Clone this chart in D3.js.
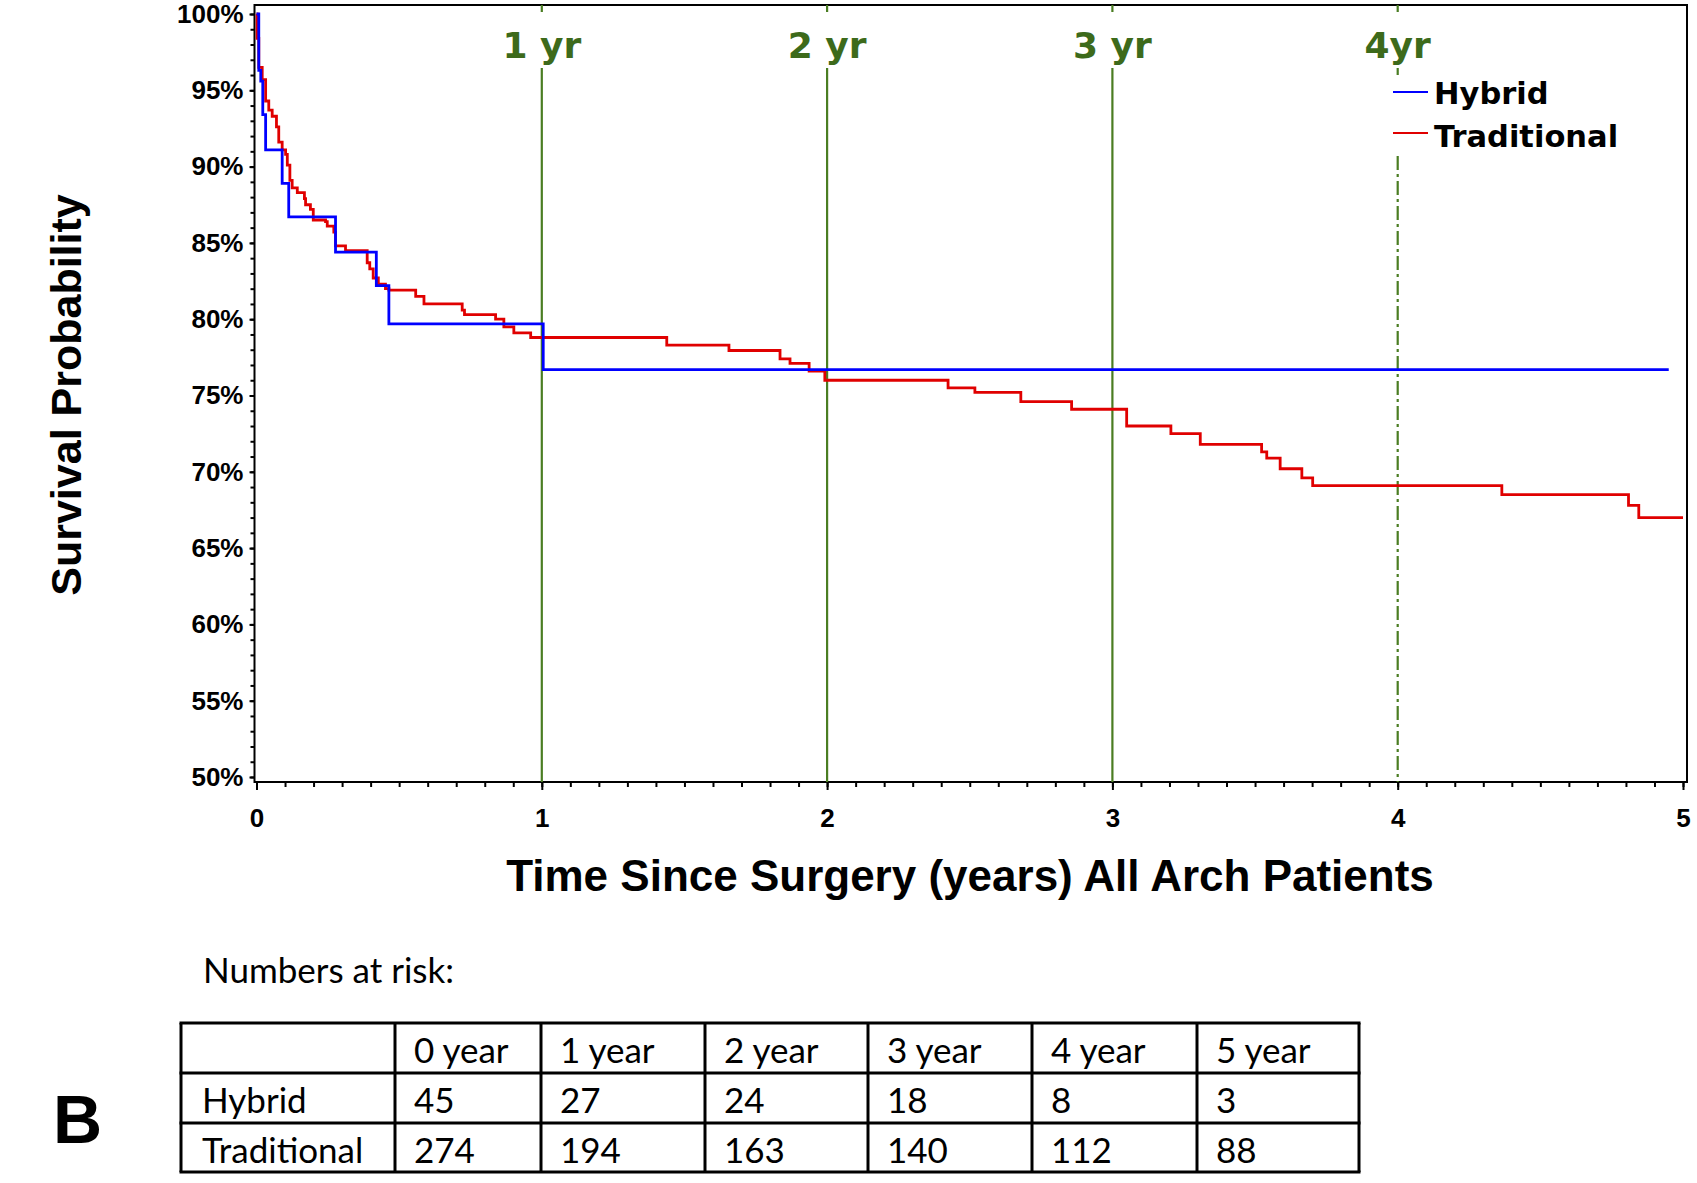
<!DOCTYPE html>
<html>
<head>
<meta charset="utf-8">
<script src="https://cdn.jsdelivr.net/npm/d3@7/dist/d3.min.js"></script>
<style>
  html, body { margin: 0; padding: 0; background: #ffffff; }
  svg { display: block; }
</style>
</head>
<body>
<svg id="chart" width="1697" height="1183"></svg>
<script>
// ---------------- data ----------------
const hybridTime = [0, 0.008, 0.015, 0.022, 0.032, 0.090, 0.113, 0.277, 0.420, 0.464, 1.005, 4.95];
const hybridSurv = [1.000, 0.963, 0.956, 0.934, 0.911, 0.889, 0.867, 0.844, 0.822, 0.797, 0.767, 0.767];

const traditionalTime = [0, 0.002, 0.008, 0.020, 0.032, 0.043, 0.055, 0.070, 0.078, 0.090, 0.102, 0.108,
  0.117, 0.125, 0.143, 0.168, 0.172, 0.189, 0.199, 0.242, 0.248, 0.271, 0.277, 0.312, 0.388, 0.397,
  0.409, 0.427, 0.452, 0.464, 0.558, 0.587, 0.721, 0.729, 0.838, 0.867, 0.902, 0.961, 1.438, 1.656,
  1.835, 1.870, 1.937, 1.992, 2.424, 2.518, 2.679, 2.857, 3.050, 3.205, 3.308, 3.523, 3.541, 3.588,
  3.664, 3.702, 4.365, 4.809, 4.845, 5.0];
const traditionalSurv = [1.000, 0.984, 0.965, 0.957, 0.943, 0.937, 0.933, 0.926, 0.916, 0.911, 0.908, 0.901,
  0.891, 0.886, 0.883, 0.879, 0.875, 0.872, 0.865, 0.864, 0.861, 0.857, 0.848, 0.845, 0.837, 0.833,
  0.827, 0.823, 0.820, 0.819, 0.815, 0.810, 0.806, 0.803, 0.800, 0.795, 0.791, 0.788, 0.783, 0.7795,
  0.774, 0.771, 0.766, 0.760, 0.755, 0.752, 0.746, 0.741, 0.730, 0.725, 0.718, 0.713, 0.709, 0.702,
  0.696, 0.691, 0.685, 0.678, 0.670, 0.670];

const seriesNames = ["Hybrid", "Traditional"];
const xTicks = [0, 1, 2, 3, 4, 5];
const yTicks = [0.50, 0.55, 0.60, 0.65, 0.70, 0.75, 0.80, 0.85, 0.90, 0.95, 1.00];
const refYears = [1, 2, 3, 4];
const refLabels = ["1 yr", "2 yr", "3 yr", "4yr"];

const riskHeader = ["0 year", "1 year", "2 year", "3 year", "4 year", "5 year"];
const hybridAtRisk = [45, 27, 24, 18, 8, 3];
const traditionalAtRisk = [274, 194, 163, 140, 112, 88];

// ---------------- layout ----------------
const svg = d3.select("#chart");
const frame = {left: 254.5, top: 5, right: 1687, bottom: 782};
const x = d3.scaleLinear().domain([0, 5]).range([256.5, 1683]);
const y = d3.scaleLinear().domain([0.5, 1]).range([777, 14]);

const green = "#4a7d22";
const greenText = "#3d6a1b";
const colors = {Hybrid: "#0000ff", Traditional: "#e00000"};
const boldSans = "'Liberation Sans', Arial, sans-serif";
const verdanaLike = "'DejaVu Sans', Verdana, sans-serif";
const calibriLike = "Lato, 'Open Sans', sans-serif";

// frame
svg.append("rect")
  .attr("x", frame.left).attr("y", frame.top)
  .attr("width", frame.right - frame.left).attr("height", frame.bottom - frame.top)
  .attr("fill", "none").attr("stroke", "#000").attr("stroke-width", 2);

// reference lines
const refG = svg.append("g");
refYears.forEach((yr, i) => {
  const xx = x(yr);
  const segs = (yr === 4) ? [[frame.top, 12], [68, 75]] : [[frame.top, 12], [68, frame.bottom]];
  segs.forEach(s => {
    refG.append("line").attr("x1", xx).attr("x2", xx).attr("y1", s[0]).attr("y2", s[1])
      .attr("stroke", green).attr("stroke-width", 2.2);
  });
  if (yr === 4) {
    refG.append("line").attr("x1", xx).attr("x2", xx).attr("y1", 156).attr("y2", frame.bottom)
      .attr("stroke", green).attr("stroke-width", 2.2).attr("stroke-dasharray", "14,4,3,4");
  }
  refG.append("text").attr("x", xx).attr("y", 58)
    .attr("text-anchor", "middle")
    .attr("font-family", verdanaLike).attr("font-weight", "bold").attr("font-size", 36)
    .attr("fill", greenText)
    .text(refLabels[i]);
});

// axes
const yMinor = d3.axisLeft(y).tickValues(d3.range(50, 101).map(d => d / 100)).tickSize(4).tickFormat("");
const yMajor = d3.axisLeft(y).tickValues(yTicks).tickSize(5).tickPadding(6).tickFormat(d3.format(".0%"));
const xMinor = d3.axisBottom(x).tickValues(d3.range(0, 51).map(d => d / 10)).tickSize(5).tickFormat("");
const xMajor = d3.axisBottom(x).tickValues(xTicks).tickSize(8).tickPadding(19).tickFormat(d3.format("d"));

function styleAxis(g) {
  g.select(".domain").remove();
  g.selectAll(".tick line").attr("stroke", "#000").attr("stroke-width", 2);
  g.selectAll(".tick text").attr("font-family", boldSans).attr("font-weight", "bold")
    .attr("font-size", 26).attr("fill", "#000");
}
svg.append("g").attr("transform", `translate(${frame.left},0)`).call(yMinor).call(styleAxis);
svg.append("g").attr("transform", `translate(${frame.left},0)`).call(yMajor).call(styleAxis);
svg.append("g").attr("transform", `translate(0,${frame.bottom})`).call(xMinor).call(styleAxis);
svg.append("g").attr("transform", `translate(0,${frame.bottom})`).call(xMajor).call(styleAxis);

// curves
const line = d3.line().x(d => x(d[0])).y(d => y(d[1])).curve(d3.curveStepAfter);
const seriesData = {
  Hybrid: hybridTime.map((t, i) => [t, hybridSurv[i]]),
  Traditional: traditionalTime.map((t, i) => [t, traditionalSurv[i]])
};
["Traditional", "Hybrid"].forEach(name => {
  svg.append("path").datum(seriesData[name])
    .attr("d", line).attr("fill", "none")
    .attr("stroke", colors[name]).attr("stroke-width", 2.8)
    .attr("stroke-linejoin", "miter");
});

// legend
const legendY = [92, 133];
const legendBase = [104, 147];
seriesNames.forEach((name, i) => {
  svg.append("line").attr("x1", 1393).attr("x2", 1428).attr("y1", legendY[i]).attr("y2", legendY[i])
    .attr("stroke", colors[name]).attr("stroke-width", 2.2);
  svg.append("text").attr("x", 1434).attr("y", legendBase[i])
    .attr("font-family", verdanaLike).attr("font-weight", "bold").attr("font-size", 30.5)
    .attr("fill", "#000").text(name);
});

// axis titles
svg.append("text").attr("x", 970).attr("y", 891).attr("text-anchor", "middle")
  .attr("font-family", boldSans).attr("font-weight", "bold").attr("font-size", 44)
  .text("Time Since Surgery (years) All Arch Patients");
svg.append("text").attr("transform", "translate(81,395) rotate(-90)").attr("text-anchor", "middle")
  .attr("font-family", boldSans).attr("font-weight", "bold").attr("font-size", 43)
  .text("Survival Probability");

// numbers at risk
svg.append("text").attr("x", 203).attr("y", 969).attr("dominant-baseline", "central")
  .attr("font-family", calibriLike).attr("font-size", 35).attr("fill", "#000")
  .text("Numbers at risk:");

const colX = [181, 395, 541, 705, 868, 1032, 1197, 1359];
const rowY = [1023, 1073, 1123, 1172];
const tg = svg.append("g");
rowY.forEach(yy => tg.append("line").attr("x1", colX[0] - 1.5).attr("x2", colX[colX.length - 1] + 1.5)
  .attr("y1", yy).attr("y2", yy).attr("stroke", "#000").attr("stroke-width", 3));
colX.forEach(xx => tg.append("line").attr("x1", xx).attr("x2", xx)
  .attr("y1", rowY[0]).attr("y2", rowY[rowY.length - 1]).attr("stroke", "#000").attr("stroke-width", 3));

const tableRows = [
  [""].concat(riskHeader),
  ["Hybrid"].concat(hybridAtRisk.map(String)),
  ["Traditional"].concat(traditionalAtRisk.map(String))
];
tableRows.forEach((row, r) => {
  const cy = (rowY[r] + rowY[r + 1]) / 2 + 1;
  row.forEach((cell, c) => {
    tg.append("text").attr("x", colX[c] + (c === 0 ? 21 : 19)).attr("y", cy)
      .attr("dominant-baseline", "central")
      .attr("font-family", calibriLike).attr("font-size", 35).attr("fill", "#000")
      .text(cell);
  });
});

// panel letter
svg.append("text").attr("x", 53).attr("y", 1143)
  .attr("font-family", boldSans).attr("font-weight", "bold").attr("font-size", 68)
  .text("B");
</script>
</body>
</html>
